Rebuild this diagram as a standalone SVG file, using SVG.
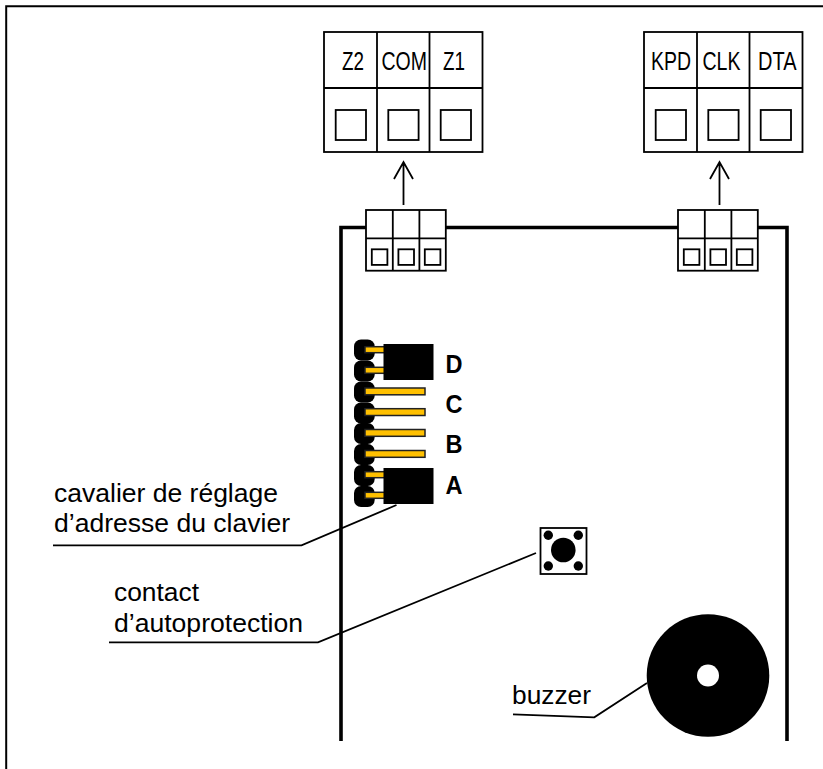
<svg xmlns="http://www.w3.org/2000/svg" width="823" height="769" viewBox="0 0 823 769">
<style>
text{font-family:"Liberation Sans",Arial,sans-serif;fill:#000}
.l{font-size:25px}
.t{font-size:25px}
.b{font-size:26px;font-weight:bold}
.box{fill:#fff;stroke:#000;stroke-width:1.8}
.sq{fill:#fff;stroke:#000;stroke-width:1.8}
.bd{fill:none;stroke:#000;stroke-width:3.6}
.ln{fill:none;stroke:#000;stroke-width:1.8}
.hd{fill:#000}
.pin{fill:#ffc000;stroke:#222;stroke-width:1.5}
</style>
<defs>
<g id="term">
<rect class="box" x="0" y="0" width="158.5" height="120"/>
<path class="ln" d="M0 56H158.500M53 0V120M105.500 0V120"/>
<rect class="sq" x="11.700" y="78" width="30.300" height="30"/>
<rect class="sq" x="64.300" y="78" width="30.300" height="30"/>
<rect class="sq" x="116.700" y="78" width="30.300" height="30"/>
</g>
<g id="conn">
<rect class="box" x="0" y="0" width="79.800" height="60.700"/>
<path class="ln" d="M0 28.300H79.800M26.800 0V60.700M53.400 0V60.700"/>
<rect class="sq" x="5.800" y="39.300" width="15.600" height="15.600"/>
<rect class="sq" x="32.400" y="39.300" width="15.600" height="15.600"/>
<rect class="sq" x="58.800" y="39.300" width="15.600" height="15.600"/>
</g>
<rect id="pad" x="354" y="0" width="20.700" height="21" rx="7" class="hd"/>
</defs>
<g id="frame"><path d="M6.200 769V6.300H823" fill="none" stroke="#000" stroke-width="2"/></g>
<g id="pcb"><path class="bd" d="M341 741V227.500H366M445 227.500H678M758 227.500H787V741"/></g>
<g id="terminal-left"><use href="#term" x="324" y="32"/>
<text class="t" x="342" y="70" textLength="22" lengthAdjust="spacingAndGlyphs">Z2</text><text class="t" x="381.500" y="70" textLength="45.500" lengthAdjust="spacingAndGlyphs">COM</text><text class="t" x="443" y="70" textLength="22" lengthAdjust="spacingAndGlyphs">Z1</text></g>
<g id="terminal-right"><use href="#term" x="644" y="32"/>
<text class="t" x="651" y="70" textLength="40" lengthAdjust="spacingAndGlyphs">KPD</text><text class="t" x="702.500" y="70" textLength="38" lengthAdjust="spacingAndGlyphs">CLK</text><text class="t" x="758" y="70" textLength="38.500" lengthAdjust="spacingAndGlyphs">DTA</text></g>
<g id="connector-left"><use href="#conn" x="366" y="210"/></g>
<g id="connector-right"><use href="#conn" x="678" y="210"/></g>
<g id="jumpers">
<use href="#pad" y="339.500"/><use href="#pad" y="360.500"/><use href="#pad" y="381.500"/><use href="#pad" y="402.500"/><use href="#pad" y="423"/><use href="#pad" y="444"/><use href="#pad" y="465"/><use href="#pad" y="486"/>
<rect class="pin" x="365" y="346.700" width="24" height="6"/><rect class="pin" x="365" y="367.300" width="24" height="6"/>
<rect class="pin" x="365" y="388" width="60" height="6.800"/><rect class="pin" x="365" y="408.700" width="60" height="6.800"/><rect class="pin" x="365" y="429.500" width="60" height="6.800"/><rect class="pin" x="365" y="450.500" width="60" height="6.800"/>
<rect class="pin" x="365" y="471.700" width="24" height="6"/><rect class="pin" x="365" y="492.300" width="24" height="6"/>
<rect class="hd" x="383.500" y="344" width="50" height="36"/>
<rect class="hd" x="383.500" y="468" width="50" height="36"/>
<text class="b" x="445.500" y="372.700" textLength="17" lengthAdjust="spacingAndGlyphs">D</text><text class="b" x="445.500" y="412.700" textLength="17" lengthAdjust="spacingAndGlyphs">C</text><text class="b" x="445.500" y="452.700" textLength="17" lengthAdjust="spacingAndGlyphs">B</text><text class="b" x="445.500" y="494" textLength="17" lengthAdjust="spacingAndGlyphs">A</text>
</g>
<g id="tamper">
<rect x="540.500" y="528" width="46" height="46" fill="#fff" stroke="#000" stroke-width="1.800"/>
<circle class="hd" cx="563.300" cy="550" r="12.300"/>
<circle class="hd" cx="548.300" cy="535.300" r="4.700"/><circle class="hd" cx="578.300" cy="535.300" r="4.700"/><circle class="hd" cx="548.300" cy="566" r="4.700"/><circle class="hd" cx="578.300" cy="566" r="4.700"/>
</g>
<g id="buzzer"><circle class="hd" cx="708" cy="675.500" r="61.300"/><circle cx="708" cy="675.500" r="11" fill="#fff"/></g>
<g id="connectors">
<path class="ln" d="M403.500 205V163M394 179L403.500 162L413 179"/>
<path class="ln" d="M719.500 205V163M710 179L719.500 162L729 179"/>
<path class="ln" d="M53 545.300H301.500L396.500 505"/>
<path class="ln" d="M109 642.300H318L536 553"/>
<path class="ln" d="M513 714.300L594.300 717.300L647 683"/>
</g>
<g id="labels">
<text class="l" x="54" y="501.700" textLength="224" lengthAdjust="spacingAndGlyphs">cavalier de réglage</text>
<text class="l" x="54" y="532.300" textLength="236" lengthAdjust="spacingAndGlyphs">d’adresse du clavier</text>
<text class="l" x="114" y="600.700" textLength="85" lengthAdjust="spacingAndGlyphs">contact</text>
<text class="l" x="114" y="631.700" textLength="189" lengthAdjust="spacingAndGlyphs">d’autoprotection</text>
<text class="l" x="512" y="704" textLength="79" lengthAdjust="spacingAndGlyphs">buzzer</text>
</g>
</svg>
